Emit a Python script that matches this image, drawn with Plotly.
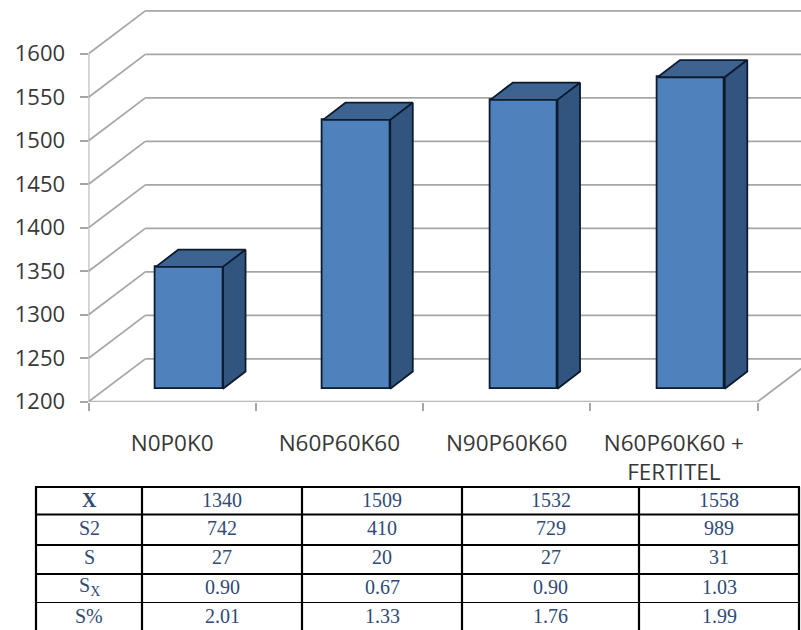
import plotly.graph_objects as go

# Chart data
categories = ["N0P0K0", "N60P60K60", "N90P60K60", "N60P60K60 +<br>FERTITEL"]
means = [1340, 1509, 1532, 1558]
y_ticks = [1200, 1250, 1300, 1350, 1400, 1450, 1500, 1550, 1600]

# Statistics table
row_labels = ["<b>X</b>", "S2", "S", "S<sub>X</sub>", "S%"]
row_x = ["1340", "1509", "1532", "1558"]
row_s2 = ["742", "410", "729", "989"]
row_s = ["27", "20", "27", "31"]
row_sx = ["0.90", "0.67", "0.90", "1.03"]
row_sp = ["2.01", "1.33", "1.76", "1.99"]
table_rows = [row_x, row_s2, row_s, row_sx, row_sp]

W, H = 801, 630
AXIS_LEFT, AXIS_BOTTOM = 88.5, 401.7
CAT_PX = 167.25
VAL_PX = 0.87
FLOOR, CEIL = 1200, 1600

# Axis ranges chosen so the plot area reaches the right and top page edges
x_lo = -0.5
x_hi = x_lo + (W - AXIS_LEFT) / CAT_PX
y_hi = FLOOR + AXIS_BOTTOM / VAL_PX
x_end = x_lo + len(categories)

# Oblique projection offsets in axis units
WALL_DX, WALL_DY = 56.8 / CAT_PX, 42.8 / VAL_PX
BAR_DX, BAR_DY = 22.5 / CAT_PX, 17.2 / VAL_PX
BAR_LIFT = 13.0 / VAL_PX
BAR_OFFSET, BAR_WIDTH = -16.4 / CAT_PX, 67.3 / CAT_PX

GRID = "#a6a6a6"
EDGE = "#0c1b2e"
FRONT, TOP, SIDE = "#4f81bd", "#3d6391", "#32557f"
TEXT = "#383838"
INK = "#2f4b75"


def seg(x0, y0, x1, y1):
    return dict(type="line", xref="x", yref="y", x0=x0, y0=y0, x1=x1, y1=y1,
                layer="below", line=dict(color=GRID, width=1.8))


shapes = []
for v in y_ticks:
    shapes.append(seg(x_lo, v, x_lo + WALL_DX, v + WALL_DY))
    shapes.append(seg(x_lo + WALL_DX, v + WALL_DY, x_hi, v + WALL_DY))
shapes.append(seg(x_lo, FLOOR, x_lo, CEIL))
shapes.append(seg(x_lo, FLOOR, x_end, FLOOR))
shapes.append(seg(x_end, FLOOR, x_end + WALL_DX, FLOOR + WALL_DY))

fig = go.Figure()

# Front faces
fig.add_trace(go.Bar(
    x=list(range(len(means))),
    y=[m - FLOOR for m in means],
    base=FLOOR + BAR_LIFT,
    width=BAR_WIDTH,
    offset=BAR_OFFSET,
    marker=dict(color=FRONT, line=dict(color=EDGE, width=1.8)),
    showlegend=False,
))

# Top and side faces of each bar
for i, m in enumerate(means):
    left = i + BAR_OFFSET
    right = left + BAR_WIDTH
    top = m + BAR_LIFT
    bottom = FLOOR + BAR_LIFT
    fig.add_trace(go.Scatter(
        x=[left, right, right + BAR_DX, left + BAR_DX, left],
        y=[top, top, top + BAR_DY, top + BAR_DY, top],
        mode="lines", fill="toself", fillcolor=TOP,
        line=dict(color=EDGE, width=1.8), showlegend=False,
    ))
    fig.add_trace(go.Scatter(
        x=[right, right + BAR_DX, right + BAR_DX, right, right],
        y=[top, top + BAR_DY, bottom + BAR_DY, bottom, top],
        mode="lines", fill="toself", fillcolor=SIDE,
        line=dict(color=EDGE, width=1.8), showlegend=False,
    ))

# Table rules, in page pixels
col_px = [36, 142, 302, 462, 639, 799]
row_px = [487, 514.5, 545, 574, 602.5]
row_w = [2.2, 2.2, 2.2, 2.2, 1.2]


def page_x(px):
    return px / W


def page_y(px):
    return 1 - px / H


for px, w in zip(row_px, row_w):
    shapes.append(dict(type="line", xref="paper", yref="paper",
                       x0=page_x(col_px[0] - 1), x1=page_x(col_px[-1] + 1),
                       y0=page_y(px), y1=page_y(px),
                       line=dict(color="#000000", width=w)))
for px in col_px:
    shapes.append(dict(type="line", xref="paper", yref="paper",
                       x0=page_x(px), x1=page_x(px),
                       y0=page_y(row_px[0]), y1=page_y(H),
                       line=dict(color="#000000", width=2.2)))

# Table text
text_y = [499.5, 528, 557, 586.5, 615.5]
annotations = []
for r, (lab, vals) in enumerate(zip(row_labels, table_rows)):
    cells = [lab] + vals
    for c, cell in enumerate(cells):
        annotations.append(dict(
            xref="paper", yref="paper", showarrow=False,
            x=page_x((col_px[c] + col_px[c + 1]) / 2), y=page_y(text_y[r]),
            xanchor="center", yanchor="middle", text=cell,
            font=dict(family="Liberation Serif", size=20, color=INK),
        ))

fig.update_layout(
    width=W, height=H,
    margin=dict(l=0, r=0, t=0, b=0, autoexpand=False),
    paper_bgcolor="#ffffff", plot_bgcolor="rgba(0,0,0,0)",
    showlegend=False, bargap=0,
    shapes=shapes, annotations=annotations,
    font=dict(family="Open Sans", color=TEXT),
    xaxis=dict(
        domain=[AXIS_LEFT / W, 1], range=[x_lo, x_hi], automargin=False,
        tickmode="array", tickvals=list(range(len(categories))), ticktext=categories,
        ticks="", showgrid=False, zeroline=False, showline=False,
        tickangle=0, ticklabelstandoff=26,
        tickfont=dict(family="Open Sans", size=22.5, color=TEXT),
        minor=dict(tickmode="array", tickvals=[x_lo + k for k in range(len(categories) + 1)],
                   ticks="outside", ticklen=8, tickwidth=1.8, tickcolor=GRID, showgrid=False),
    ),
    yaxis=dict(
        domain=[1 - AXIS_BOTTOM / H, 1], range=[FLOOR, y_hi], automargin=False,
        tickmode="array", tickvals=y_ticks,
        ticks="outside", ticklen=8, tickwidth=1.8, tickcolor=GRID,
        showgrid=False, zeroline=False, showline=False,
        ticklabelstandoff=10,
        tickfont=dict(family="Open Sans", size=22, color=TEXT),
    ),
)

fig.write_html("out.html")
